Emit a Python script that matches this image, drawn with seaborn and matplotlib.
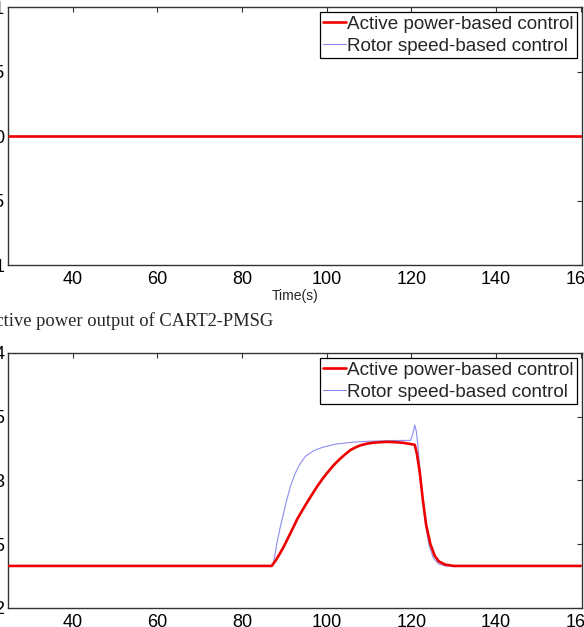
import matplotlib
matplotlib.use("Agg")
import matplotlib.pyplot as plt
import numpy as np
import pandas as pd
import seaborn as sns

# ---------------- data ----------------
series_labels = ["Active power-based control", "Rotor speed-based control"]

# top panel (flat at zero)
time_top = [25, 160]
active_top = [0.0, 0.0]
rotor_top = [0.0, 0.0]

# bottom panel: active power output of CART2-PMSG
time_active = [25, 87, 88, 89, 90, 91, 92.2, 93, 94, 95, 96, 97.7, 99, 100,
               101.7, 103, 104, 105.6, 107, 108, 109.5, 111.1, 114, 116, 118,
               120, 120.8, 121.3, 122, 122.7, 123.5, 124.5, 125.5, 126.5, 128,
               130, 160]
active_power = [0.233, 0.233, 0.2375, 0.243, 0.249, 0.2558, 0.2638, 0.2695,
                0.2752, 0.2808, 0.2862, 0.2951, 0.3012, 0.3055, 0.3122, 0.3165,
                0.3195, 0.3239, 0.3263, 0.3276, 0.3289, 0.3297, 0.3303, 0.3301,
                0.3296, 0.3285, 0.328, 0.321, 0.306, 0.285, 0.265, 0.250, 0.241,
                0.2365, 0.234, 0.233, 0.233]

time_rotor = [25, 87.3, 87.8, 88.3, 89, 89.8, 90.5, 91.5, 92.5, 93.5, 95, 97, 99,
              102, 106, 110, 115, 119.8, 120.3, 120.8, 121.2, 121.5, 122, 122.6,
              123.3, 124.2, 125.2, 126.5, 128, 160]
rotor_speed = [0.233, 0.233, 0.242, 0.252, 0.263, 0.274, 0.284, 0.296, 0.305,
               0.312, 0.319, 0.3235, 0.326, 0.3285, 0.3300, 0.3308, 0.3313,
               0.3315, 0.336, 0.3435, 0.338, 0.328, 0.310, 0.288, 0.266, 0.249,
               0.239, 0.2345, 0.233, 0.233]

x_ticks = [40, 60, 80, 100, 120, 140, 160]
top_yticks = [-0.01, -0.005, 0, 0.005, 0.01]
top_ylabels = ["-0.01", "-0.005", "0", "0.005", "0.01"]
bot_yticks = [0.2, 0.25, 0.3, 0.35, 0.4]
bot_ylabels = ["0.2", "0.25", "0.3", "0.35", "0.4"]
x_label = "Time(s)"
caption = "Active power output of CART2-PMSG"

# ---------------- style ----------------
sns.set_theme(style="white")
plt.rcParams["font.family"] = ["Liberation Sans", "DejaVu Sans"]

RED = "#ee0000"
BLUE = "#8c8cf0"
SPINE = "#333333"

W, H = 584, 627
fig = plt.figure(figsize=(W / 100, H / 100), dpi=100)


def px_axes(l, t, r, b):
    return fig.add_axes([l / W, 1 - b / H, (r - l) / W, (b - t) / H])


ax1 = px_axes(8.3, 7, 582, 265)
ax2 = px_axes(8.3, 353, 582, 608)


def draw(ax, t_a, v_a, t_r, v_r, yticks, ylabels, ylim):
    df_r = pd.DataFrame({"t": t_r, "v": v_r})
    df_a = pd.DataFrame({"t": t_a, "v": v_a})
    sns.lineplot(data=df_r, x="t", y="v", ax=ax, color=BLUE, lw=0.8, zorder=2)
    sns.lineplot(data=df_a, x="t", y="v", ax=ax, color=RED, lw=1.9, zorder=3)
    ax.set_xlim(24.8, 160.3)
    ax.set_ylim(*ylim)
    ax.set_xticks(x_ticks)
    ax.set_xticklabels([str(v) for v in x_ticks])
    ax.set_yticks(yticks)
    ax.set_yticklabels(ylabels)
    ax.set_xlabel("")
    ax.set_ylabel("")
    for s in ax.spines.values():
        s.set_visible(True)
        s.set_color(SPINE)
        s.set_linewidth(1.0)
    ax.tick_params(axis="both", which="both", direction="in", length=3.5,
                   width=0.8, color=SPINE, top=True, right=True,
                   labelsize=13, labelcolor="black")
    ax.tick_params(axis="y", pad=2.5)
    ax.tick_params(axis="x", pad=4)
    h_a = plt.Line2D([], [], color=RED, lw=1.9)
    h_r = plt.Line2D([], [], color=BLUE, lw=0.8)
    leg = ax.legend([h_a, h_r], series_labels, loc="upper right",
                    fontsize=13.6, frameon=True, fancybox=False,
                    edgecolor="black", framealpha=1, borderpad=0.2,
                    labelspacing=0.25, handlelength=1.2, handletextpad=0.05,
                    borderaxespad=0.25)
    leg.get_frame().set_linewidth(0.9)


draw(ax1, time_top, active_top, time_top, rotor_top, top_yticks, top_ylabels,
     (-0.01, 0.01))
draw(ax2, time_active, active_power, time_rotor, rotor_speed, bot_yticks,
     bot_ylabels, (0.2, 0.4))

ax1.set_xlabel(x_label, fontsize=10, labelpad=1)

fig.text(273 / W, 1 - 321 / H, caption, ha="right", va="center",
         fontsize=13.35, family=["Liberation Serif", "DejaVu Serif"])

fig.savefig("out.png", dpi=100)
